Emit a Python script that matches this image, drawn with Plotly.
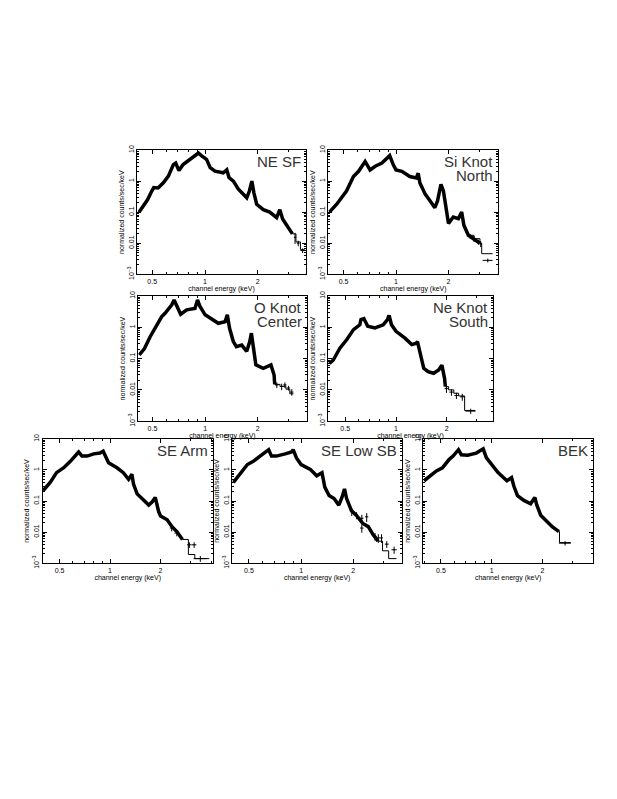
import math
import plotly.graph_objects as go

# page body has an 8px margin; the figure is sized to fit inside it
OFF = 8
W, H = 617 - 2 * OFF, 799 - 2 * OFF

# ---------------- data ----------------
# NE SF
ne_sf_energy = [0.42, 0.44, 0.47, 0.497, 0.51, 0.54, 0.58, 0.618, 0.66, 0.68, 0.71, 0.75, 0.82, 0.877, 0.917,
                0.957, 1.0, 1.02, 1.07, 1.14, 1.27, 1.33, 1.37, 1.45, 1.55, 1.65, 1.73, 1.79, 1.85, 1.9,
                1.97, 2.15, 2.34, 2.56, 2.67, 2.77, 2.98, 3.15]
ne_sf_counts = [0.1, 0.14, 0.25, 0.48, 0.62, 0.6, 0.9, 1.45, 3.4, 3.8, 2.2, 3.4, 4.9, 6.3, 8.0,
                6.5, 5.5, 5.0, 2.7, 2.1, 1.85, 2.3, 1.3, 1.0, 0.55, 0.37, 0.29, 0.48, 1.0, 0.42,
                0.18, 0.12, 0.1, 0.067, 0.12, 0.06, 0.033, 0.02]
ne_sf_err_e = [3.26, 3.4, 3.6]
ne_sf_err_v = [0.0155, 0.01, 0.0058]
ne_sf_err_dx = [0.05, 0.06, 0.1]
ne_sf_err_dy = [0.006, 0.002, 0.001]
ne_sf_model_e = [3.15, 3.3, 3.5, 3.7]
ne_sf_model_v = [0.02, 0.011, 0.0062, 0.0062]

# Si Knot North
si_energy = [0.415, 0.457, 0.52, 0.57, 0.61, 0.65, 0.665, 0.71, 0.76, 0.83, 0.9, 0.92, 0.965, 1.0,
             1.08, 1.2, 1.31, 1.34, 1.37, 1.47, 1.57, 1.67, 1.73, 1.81, 1.87, 1.95, 2.0, 2.13, 2.28,
             2.38, 2.45, 2.6, 2.77, 3.03]
si_counts = [0.1, 0.18, 0.48, 1.4, 2.07, 3.8, 4.3, 2.3, 3.0, 3.8, 5.5, 6.6, 3.35, 2.3,
             2.07, 1.4, 1.27, 1.8, 0.88, 0.38, 0.23, 0.14, 0.23, 0.78, 0.48, 0.078, 0.043, 0.07, 0.062,
             0.1, 0.038, 0.018, 0.014, 0.01]
si_err_e = [2.66, 2.8, 2.97, 3.06, 3.36]
si_err_v = [0.017, 0.014, 0.011, 0.0095, 0.0028]
si_err_dx = [0.06, 0.06, 0.06, 0.05, 0.22]
si_err_dy = [0.003, 0.003, 0.002, 0.002, 0.0004]
si_model_e = [2.6, 2.8, 3.03, 3.1, 3.58]
si_model_v = [0.018, 0.014, 0.01, 0.0046, 0.0046]

# O Knot Center
o_energy = [0.42, 0.45, 0.485, 0.52, 0.565, 0.59, 0.645, 0.665, 0.69, 0.725, 0.785, 0.875, 0.905, 0.935,
            1.0, 1.07, 1.19, 1.3, 1.34, 1.38, 1.45, 1.51, 1.62, 1.73, 1.8, 1.84, 1.87, 1.95, 2.15,
            2.3, 2.38, 2.48, 2.5]
o_counts = [0.13, 0.21, 0.5, 0.93, 2.2, 2.8, 5.2, 7.45, 4.6, 2.6, 3.6, 4.0, 7.45, 4.6,
            2.5, 1.94, 1.34, 1.5, 2.5, 0.93, 0.35, 0.24, 0.27, 0.17, 0.35, 0.65, 0.35, 0.063, 0.049,
            0.056, 0.063, 0.03, 0.015]
o_err_e = [2.57, 2.74, 2.86, 3.0, 3.13]
o_err_v = [0.0144, 0.0128, 0.0144, 0.0115, 0.0085]
o_err_dx = [0.06, 0.06, 0.06, 0.06, 0.07]
o_err_dy = [0.003, 0.003, 0.003, 0.002, 0.002]
o_model_e = [2.5, 2.68, 2.9, 3.05, 3.2]
o_model_v = [0.015, 0.013, 0.0105, 0.0075, 0.0075]

# Ne Knot South
ne_energy = [0.403, 0.425, 0.465, 0.51, 0.56, 0.61, 0.62, 0.645, 0.68, 0.75, 0.84, 0.89, 0.91, 0.94,
             1.0, 1.13, 1.24, 1.32, 1.34, 1.39, 1.46, 1.55, 1.67, 1.79, 1.87, 1.94, 1.96]
ne_counts = [0.07, 0.09, 0.215, 0.4, 0.84, 1.2, 1.77, 1.9, 1.08, 0.95, 1.2, 1.77, 2.4, 1.2,
             0.74, 0.45, 0.28, 0.31, 0.35, 0.15, 0.049, 0.038, 0.034, 0.043, 0.062, 0.023, 0.0127]
ne_err_e = [1.99, 2.13, 2.28, 2.47, 2.77]
ne_err_v = [0.011, 0.0085, 0.0066, 0.006, 0.0021]
ne_err_dx = [0.05, 0.06, 0.06, 0.07, 0.19]
ne_err_dy = [0.003, 0.002, 0.0015, 0.0015, 0.0004]
ne_model_e = [1.96, 2.05, 2.2, 2.35, 2.55, 2.95]
ne_model_v = [0.0127, 0.01, 0.0078, 0.0064, 0.0022, 0.0022]

# SE Arm
se_arm_energy = [0.4, 0.44, 0.48, 0.53, 0.58, 0.62, 0.65, 0.68, 0.73, 0.8, 0.87, 0.91, 0.95, 0.98,
                 1.1, 1.2, 1.29, 1.35, 1.38, 1.45, 1.55, 1.7, 1.78, 1.86, 1.95, 2.0, 2.19, 2.34,
                 2.5, 2.7]
se_arm_counts = [0.217, 0.4, 0.82, 1.18, 1.9, 2.8, 3.8, 2.8, 2.8, 3.3, 3.5, 4.0, 2.45, 1.7,
                 1.18, 0.82, 0.5, 0.73, 0.35, 0.17, 0.12, 0.074, 0.093, 0.13, 0.045, 0.033, 0.025, 0.015,
                 0.0104, 0.0058]
se_arm_err_e = [2.33, 2.5, 2.97, 3.17, 3.45]
se_arm_err_v = [0.0135, 0.0093, 0.0039, 0.0039, 0.0014]
se_arm_err_dx = [0.06, 0.08, 0.09, 0.1, 0.3]
se_arm_err_dy = [0.003, 0.002, 0.0008, 0.0008, 0.0003]
se_arm_model_e = [2.7, 2.93, 3.2, 3.9]
se_arm_model_v = [0.0058, 0.0019, 0.0014, 0.0014]

# SE Low SB
se_low_energy = [0.407, 0.445, 0.49, 0.53, 0.565, 0.6, 0.65, 0.675, 0.72, 0.81, 0.88, 0.9, 0.94, 1.0,
                 1.13, 1.23, 1.32, 1.37, 1.45, 1.55, 1.65, 1.72, 1.78, 1.83, 1.95, 2.08, 2.27, 2.44,
                 2.6, 2.78]
se_low_counts = [0.4, 0.73, 1.5, 1.9, 2.45, 3.1, 4.5, 2.8, 2.8, 3.3, 3.8, 4.5, 2.45, 1.5,
                 1.05, 0.65, 0.82, 0.28, 0.15, 0.12, 0.074, 0.13, 0.245, 0.12, 0.05, 0.035, 0.019, 0.015,
                 0.0083, 0.0051]
se_low_err_e = [1.96, 2.09, 2.24, 2.39, 2.24, 2.67, 2.79, 2.91, 3.12, 3.44]
se_low_err_v = [0.045, 0.035, 0.028, 0.031, 0.0135, 0.0073, 0.0065, 0.0065, 0.0041, 0.0027]
se_low_err_dx = [0.04, 0.04, 0.05, 0.05, 0.05, 0.06, 0.06, 0.06, 0.08, 0.12]
se_low_err_dy = [0.012, 0.009, 0.008, 0.01, 0.004, 0.002, 0.002, 0.002, 0.001, 0.0007]
se_low_model_e = [2.78, 2.95, 3.2, 3.55]
se_low_model_v = [0.0051, 0.0025, 0.0014, 0.0014]

# BEK
bek_energy = [0.397, 0.43, 0.47, 0.51, 0.56, 0.59, 0.635, 0.66, 0.72, 0.81, 0.89, 0.93, 1.0, 1.09,
              1.23, 1.31, 1.35, 1.42, 1.55, 1.7, 1.8, 1.85, 1.95, 2.08, 2.28, 2.5]
bek_counts = [0.45, 0.65, 0.93, 1.18, 2.2, 2.8, 4.5, 3.1, 3.0, 3.5, 4.8, 2.45, 1.5, 0.82,
              0.45, 0.57, 0.31, 0.15, 0.105, 0.082, 0.13, 0.074, 0.035, 0.025, 0.015, 0.0104]
bek_err_e = [2.72]
bek_err_v = [0.0044]
bek_err_dx = [0.22]
bek_err_dy = [0.0007]
bek_model_e = [2.5, 2.52, 2.94]
bek_model_v = [0.0104, 0.0046, 0.0046]

y_tick_vals = [0.001, 0.01, 0.1, 1, 10]
y_tick_text = ["10<sup>\u22123</sup>", "0.01", "0.1", "1", "10"]
x_tick_vals = [0.5, 1, 2]
x_tick_text = ["0.5", "1", "2"]
x_minor_vals = [0.4, 0.6, 0.7, 0.8, 0.9, 3, 4]
y_minor_vals = [m * 10 ** d for d in range(-3, 1) for m in range(2, 10)]

# ---------------- layout (pixel boxes in the reference page) ----------------
panels = [
    dict(name=["NE SF"], e=ne_sf_energy, v=ne_sf_counts, ee=ne_sf_err_e, ev=ne_sf_err_v, edx=ne_sf_err_dx,
         edy=ne_sf_err_dy, me=ne_sf_model_e, mv=ne_sf_model_v, box=(137.3, 305.7, 147, 273), xr=(0.411, 3.75)),
    dict(name=["Si Knot", "North"], e=si_energy, v=si_counts, ee=si_err_e, ev=si_err_v, edx=si_err_dx,
         edy=si_err_dy, me=si_model_e, mv=si_model_v, box=(328.3, 498.3, 147, 273), xr=(0.409, 3.86)),
    dict(name=["O Knot", "Center"], e=o_energy, v=o_counts, ee=o_err_e, ev=o_err_v, edx=o_err_dx,
         edy=o_err_dy, me=o_model_e, mv=o_model_v, box=(138.3, 306.5, 295, 422), xr=(0.415, 3.8)),
    dict(name=["Ne Knot", "South"], e=ne_energy, v=ne_counts, ee=ne_err_e, ev=ne_err_v, edx=ne_err_dx,
         edy=ne_err_dy, me=ne_model_e, mv=ne_model_v, box=(328.3, 492.7, 295, 422), xr=(0.397, 3.74)),
    dict(name=["SE Arm"], e=se_arm_energy, v=se_arm_counts, ee=se_arm_err_e, ev=se_arm_err_v, edx=se_arm_err_dx,
         edy=se_arm_err_dy, me=se_arm_model_e, mv=se_arm_model_v, box=(42.7, 212.7, 440, 566), xr=(0.397, 4.09)),
    dict(name=["SE Low SB"], e=se_low_energy, v=se_low_counts, ee=se_low_err_e, ev=se_low_err_v, edx=se_low_err_dx,
         edy=se_low_err_dy, me=se_low_model_e, mv=se_low_model_v, box=(232.3, 402, 440, 566), xr=(0.401, 3.82)),
    dict(name=["BEK"], e=bek_energy, v=bek_counts, ee=bek_err_e, ev=bek_err_v, edx=bek_err_dx,
         edy=bek_err_dy, me=bek_model_e, mv=bek_model_v, box=(423.3, 593, 440, 566), xr=(0.393, 3.98)),
]


def fx(px):
    return (px - OFF) / W


def fy(py):
    return 1 - (py - OFF) / H


fig = go.Figure()
annotations = []
tick_font = dict(family="Liberation Sans, Arial, sans-serif", size=7, color="black")
title_font = dict(family="Liberation Sans, Arial, sans-serif", size=7, color="black")

for i, p in enumerate(panels):
    k = "" if i == 0 else str(i + 1)
    xa, ya = "x" + k, "y" + k
    l, r, t, b = p["box"]
    # data band
    fig.add_trace(go.Scatter(x=p["e"], y=p["v"], mode="lines", xaxis=xa, yaxis=ya,
                             line=dict(color="black", width=3.5), hoverinfo="skip"))
    # model (step histogram tail)
    fig.add_trace(go.Scatter(x=p["me"], y=p["mv"], mode="lines", xaxis=xa, yaxis=ya,
                             line=dict(color="black", width=1, shape="hv"), hoverinfo="skip"))
    # data crosses
    fig.add_trace(go.Scatter(x=p["ee"], y=p["ev"], mode="markers", xaxis=xa, yaxis=ya,
                             marker=dict(size=1, color="black"),
                             error_x=dict(type="data", array=p["edx"], color="black", thickness=1, width=0),
                             error_y=dict(type="data", array=p["edy"], color="black", thickness=1, width=0),
                             hoverinfo="skip"))
    axis_common = dict(showline=True, linecolor="black", linewidth=1, mirror="ticks", ticks="inside",
                       ticklen=4, tickwidth=1, tickcolor="black", showgrid=False, zeroline=False,
                       tickfont=tick_font, tickmode="array")
    fig.layout["xaxis" + k] = dict(
        axis_common, type="log", domain=[fx(l), fx(r)], anchor=ya,
        range=[math.log10(p["xr"][0]), math.log10(p["xr"][1])],
        tickvals=x_tick_vals, ticktext=x_tick_text,
        minor=dict(tickmode="array", tickvals=x_minor_vals, ticks="inside", ticklen=2, tickcolor="black"),
        title=dict(text="channel energy (keV)", font=title_font, standoff=0))
    fig.layout["yaxis" + k] = dict(
        axis_common, type="log", domain=[fy(b), fy(t)], anchor=xa, range=[-3, 1],
        tickvals=y_tick_vals, ticktext=y_tick_text, tickangle=-90,
        minor=dict(tickmode="array", tickvals=y_minor_vals, ticks="inside", ticklen=2, tickcolor="black"),
        title=dict(text="normalized counts/sec/keV", font=title_font, standoff=1))
    for j, line in enumerate(p["name"]):
        annotations.append(dict(text=line, xref="paper", yref="paper", x=fx(r - 3),
                                y=fy(t + 3 + 14 * j), xanchor="right", yanchor="top",
                                height=13, valign="middle", showarrow=False,
                                font=dict(family="Liberation Sans, Arial, sans-serif", size=15, color="#333")))

fig.update_layout(width=W, height=H, margin=dict(l=0, r=0, t=0, b=0), showlegend=False,
                  paper_bgcolor="white", plot_bgcolor="white", annotations=annotations)
fig.write_html("out.html")
